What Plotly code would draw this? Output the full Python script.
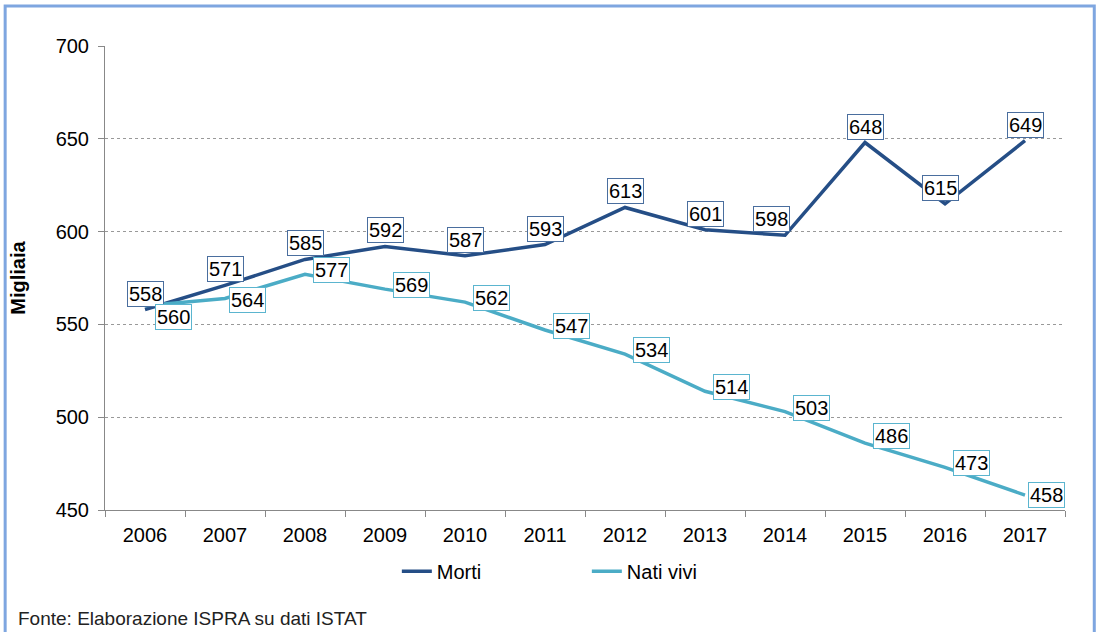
import plotly.graph_objects as go

years = ["2006", "2007", "2008", "2009", "2010", "2011", "2012", "2013", "2014", "2015", "2016", "2017"]
morti = [558, 571, 585, 592, 587, 593, 613, 601, 598, 648, 615, 649]
nati_vivi = [560, 564, 577, 569, 562, 547, 534, 514, 503, 486, 473, 458]

c_morti = "#254E86"
c_nati = "#4BACC6"
font = "Liberation Sans, Arial, sans-serif"

fig = go.Figure()
fig.add_trace(go.Scatter(x=years, y=morti, mode="lines", name="Morti",
                         line=dict(color=c_morti, width=3.5)))
fig.add_trace(go.Scatter(x=years, y=nati_vivi, mode="lines", name="Nati vivi",
                         line=dict(color=c_nati, width=3.5)))

lab_font = dict(family=font, size=20, color="black")
ann = []
for i, v in enumerate(morti):
    ann.append(dict(x=i, y=v, text=str(v), showarrow=False, xanchor="center", yanchor="bottom",
                    yshift=3, bordercolor="#4A6E9E", borderwidth=1, borderpad=1, bgcolor="white",
                    font=lab_font))
for i, v in enumerate(nati_vivi):
    ann.append(dict(x=i, y=v, text=str(v), showarrow=False, xanchor="left", yanchor="middle",
                    xshift=8, yshift=4, bordercolor="#5BB5CF", borderwidth=1, borderpad=1,
                    bgcolor="white", font=lab_font))
# individual tweaks of label placement
ann[8]["xshift"] = -14          # 598
ann[10]["xshift"] = -5          # 615
ann[12]["xshift"] = 10          # 560
ann[12]["yanchor"] = "top"
ann[12]["yshift"] = 2
ann[13]["xshift"] = 4           # 564
ann[13]["yshift"] = -2
ann[21]["yshift"] = 7           # 486
ann[23]["xshift"] = 3           # 458
ann[23]["yshift"] = 0

ann.append(dict(xref="paper", yref="paper", x=-0.093, y=-0.234, xanchor="left", yanchor="middle",
                text="Fonte: Elaborazione ISPRA su dati ISTAT", showarrow=False,
                font=dict(family="Liberation Sans Narrow, Arial Narrow, sans-serif", size=19, color="#222")))

fig.update_layout(
    width=1099, height=632,
    margin=dict(l=105, r=34, t=46, b=122),
    paper_bgcolor="white", plot_bgcolor="white",
    font=dict(family=font, size=20, color="black"),
    showlegend=True,
    legend=dict(orientation="h", x=0.304, xanchor="left", y=-0.09, yanchor="top",
                font=dict(family=font, size=20), itemwidth=30, tracegroupgap=0,
                entrywidth=145),
    annotations=ann,
    shapes=[dict(type="rect", xref="paper", yref="paper", x0=-0.104, x1=1.0305, y0=-0.5, y1=1.086,
                 line=dict(color="#7EA6E0", width=3), layer="below")],
    xaxis=dict(type="category", showgrid=False, showline=True, linecolor="#888", linewidth=1,
               ticks="outside", tickson="boundaries", ticklen=6, tickcolor="#888",
               tickfont=dict(size=20), tickangle=0, range=[-0.5, 11.5], ticklabelstandoff=7),
    yaxis=dict(range=[450, 700], dtick=50, showgrid=True, gridcolor="#999", griddash="dot",
               gridwidth=1, showline=True, linecolor="#888", linewidth=1, ticks="outside",
               ticklen=6, tickcolor="#888", zeroline=False, tickfont=dict(size=20),
               ticklabelstandoff=5,
               title=dict(text="<b>Migliaia</b>", font=dict(size=20), standoff=24)),
)
fig.write_html("out.html", config={"displayModeBar": False},
               post_script="document.body.style.margin='0';")
